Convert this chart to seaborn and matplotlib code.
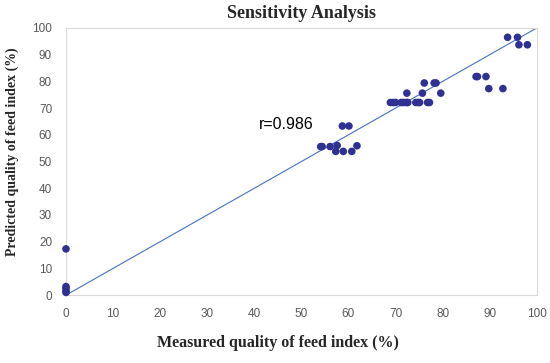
import pandas as pd
import seaborn as sns
import matplotlib
matplotlib.use("Agg")
import matplotlib.pyplot as plt

# measured vs predicted quality of feed index (%)
measured = [0, 0, 0, 0, 0,
            54.1, 54.4, 56.1, 57.6, 57.3, 58.9, 60.7, 61.8, 58.7, 60.1,
            68.9, 69.5, 70.0, 71.2, 71.7, 72.3, 72.6, 74.3, 74.8, 75.1, 76.8, 77.2,
            72.4, 75.7, 79.6, 76.1, 78.2, 78.6,
            87.1, 87.4, 89.2, 89.8, 92.8,
            93.8, 95.9, 96.2, 98.0]
predicted = [17.3, 3.2, 2.5, 1.5, 1.0,
             55.6, 55.6, 55.6, 56.0, 53.8, 53.8, 53.8, 55.9, 63.3, 63.3,
             72.1, 72.1, 72.1, 72.1, 72.1, 72.1, 72.1, 72.1, 72.1, 72.1, 72.1, 72.1,
             75.6, 75.6, 75.6, 79.4, 79.4, 79.4,
             81.8, 81.8, 81.8, 77.3, 77.3,
             96.5, 96.5, 93.7, 93.7]
trend_x = [0, 100]
trend_y = [0, 100]
r_label = "r=0.986"
ticks = [0, 10, 20, 30, 40, 50, 60, 70, 80, 90, 100]

df = pd.DataFrame({"measured": measured, "predicted": predicted})
trend = pd.DataFrame({"x": trend_x, "y": trend_y})

sns.set_style("white")
fig = plt.figure(figsize=(5.5, 3.63), dpi=100)
ax = fig.add_axes([0.12, 0.187, 0.856, 0.736])

sns.lineplot(data=trend, x="x", y="y", ax=ax, color="#4472C4", linewidth=0.8)
sns.scatterplot(data=df, x="measured", y="predicted", ax=ax, color="#2E3192",
                s=30, edgecolor="none", clip_on=False, zorder=3)

ax.set_xlim(0, 100)
ax.set_ylim(0, 100)
ax.set_xticks(ticks)
ax.set_yticks(ticks)
ax.tick_params(axis="both", length=0, labelsize=8.5, labelcolor="#595959")
ax.tick_params(axis="x", pad=9)
ax.tick_params(axis="y", pad=10)
for lab in ax.get_xticklabels() + ax.get_yticklabels():
    lab.set_family("Liberation Sans")
for sp in ax.spines.values():
    sp.set_color("#D9D9D9")
    sp.set_linewidth(0.8)

ax.text(41, 64, r_label, fontsize=11.5, family="Liberation Sans", color="black",
        va="center", ha="left")

ax.set_title("Sensitivity Analysis", family="Liberation Serif", fontweight="bold",
             fontsize=13, pad=7)
ax.set_xlabel("Measured quality of feed index (%)", family="Liberation Serif",
              fontweight="bold", fontsize=11.5, va="center")
ax.set_ylabel("Predicted quality of feed index (%)", family="Liberation Serif",
              fontweight="bold", fontsize=10, va="center")
ax.xaxis.set_label_coords(0.451, -0.18)
ax.yaxis.set_label_coords(-0.114, 0.536)

plt.savefig("out.png", dpi=100)
